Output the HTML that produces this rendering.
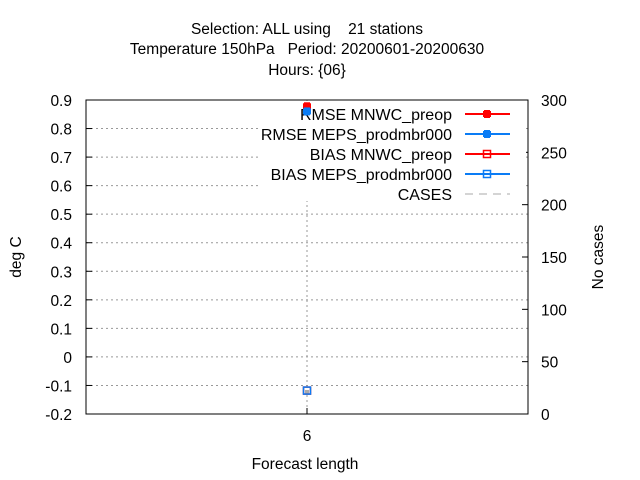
<!DOCTYPE html>
<html><head><meta charset="utf-8"><style>
body{margin:0;background:#fff;}
svg{display:block;font-family:"Liberation Sans",sans-serif;}
text{white-space:pre;}
</style></head><body>
<svg id="chart" width="640" height="480" viewBox="0 0 640 480" xml:space="preserve">
<g font-size="15.5" text-anchor="middle" fill="#000">
<text x="307" y="34">Selection: ALL using    21 stations</text>
<text x="307" y="54">Temperature 150hPa   Period: 20200601-20200630</text>
<text x="307" y="75">Hours: {06}</text>
</g>
<g id="grid"></g>
<g id="axes"></g>
<g id="legend"></g>
<g id="series"></g>
<text x="21" y="257" font-size="15.5" text-anchor="middle" transform="rotate(-90 21 257)">deg C</text>
<text x="603" y="257" font-size="15.5" text-anchor="middle" transform="rotate(-90 603 257)">No cases</text>
<text x="305" y="469" font-size="15.5" text-anchor="middle">Forecast length</text>
</svg>
<script>
const categories=[6];
const rmseMnwc=[0.878];
const rmseMeps=[0.860];
const biasMnwc=[-0.118];
const biasMeps=[-0.118];
const cases=[21];
const yTicks=[-0.2,-0.1,0,0.1,0.2,0.3,0.4,0.5,0.6,0.7,0.8,0.9];
const y2Ticks=[0,50,100,150,200,250,300];
const NS="http://www.w3.org/2000/svg";
const L=86,R=528,T=100,B=414;
const xs=v=>307+(v-6)*50;
const ys=v=>B-(v+0.2)/1.1*(B-T);
const ys2=v=>B-v/300*(B-T);
function mk(p,tag,a){const e=document.createElementNS(NS,tag);for(const k in a)e.setAttribute(k,a[k]);p.appendChild(e);return e;}
const grid=document.getElementById('grid'),axes=document.getElementById('axes'),ser=document.getElementById('series'),leg=document.getElementById('legend');
yTicks.forEach(t=>{const y=ys(t);
 if(t>-0.2&&t<0.9){const g=mk(grid,'line',{x1:L,x2:R,y1:y,y2:y,stroke:'#999','stroke-dasharray':'2,3'});
 
 }
 mk(axes,'line',{x1:L,x2:L+6,y1:y,y2:y,stroke:'#000'});
 const tx=mk(axes,'text',{x:L-14,y:y+6,'font-size':15.5,'text-anchor':'end'});
 tx.textContent=Math.abs(t)<1e-9?'0':t.toFixed(1);
 
 });
y2Ticks.forEach(t=>{const y=ys2(t);
 mk(axes,'line',{x1:R-6,x2:R,y1:y,y2:y,stroke:'#000'});
 const tx=mk(axes,'text',{x:R+13,y:y+6,'font-size':15.5});tx.textContent=t;
 
 });
categories.forEach(c=>{const x=xs(c);
 const g=mk(grid,'line',{x1:x,x2:x,y1:T,y2:B,stroke:'#999','stroke-dasharray':'2,3'});
 
 
 mk(axes,'line',{x1:x,x2:x,y1:B,y2:B-6,stroke:'#000'});
 const tx=mk(axes,'text',{x:x,y:441,'font-size':15.5,'text-anchor':'middle'});tx.textContent=c;
 
 });
mk(axes,'rect',{x:L,y:T,width:R-L,height:B-T,fill:'none',stroke:'#000'});
mk(leg,'rect',{x:258,y:101,width:268,height:100,fill:'#fff'});
function filled(p,x,y,c){mk(p,'rect',{x:x-3,y:y-4,width:6,height:8,fill:c});mk(p,'rect',{x:x-4,y:y-3,width:8,height:6,fill:c});}
function box(p,x,y,c){mk(p,'rect',{x:x-3.5,y:y-3.5,width:7,height:7,fill:'none',stroke:c,'stroke-width':1.5});}
const items=[['RMSE MNWC_preop','#f00',filled],['RMSE MEPS_prodmbr000','#0a7cf5',filled],['BIAS MNWC_preop','#f00',box],['BIAS MEPS_prodmbr000','#0a7cf5',box],['CASES','#aaa',null]];
items.forEach((it,i)=>{const y=114+i*20;
 const t=mk(leg,'text',{x:452,y:y+6,'font-size':16,'text-anchor':'end'});t.textContent=it[0];
 
 
 if(it[2]){mk(leg,'line',{x1:465,x2:510,y1:y,y2:y,stroke:it[1],'stroke-width':2});it[2](leg,487,y,it[1]);}
 else mk(leg,'line',{x1:465,x2:510,y1:y,y2:y,stroke:it[1],'stroke-dasharray':'8,6'});});
categories.forEach((c,i)=>{const x=xs(c);
 const cp=mk(ser,'rect',{x:x-2,y:ys2(cases[i])-2,width:4,height:4,fill:'#aaa'});
 
 
 const g1=mk(ser,'g',{});box(g1,x,ys(biasMnwc[i]),'#f00');
 const g2=mk(ser,'g',{});box(g2,x,ys(biasMeps[i]),'#0a7cf5');
 const g3=mk(ser,'g',{});filled(g3,x,ys(rmseMnwc[i]),'#f00');
 const g4=mk(ser,'g',{});filled(g4,x,ys(rmseMeps[i]),'#0a7cf5');
});
</script>
</body></html>
